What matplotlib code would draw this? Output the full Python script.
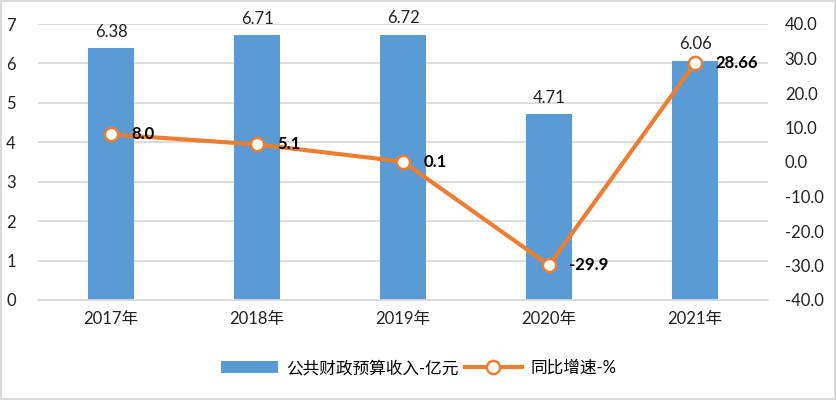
import matplotlib.pyplot as plt
import numpy as np
from matplotlib.patches import Rectangle

plt.rcParams['font.family'] = ['Lato', 'Noto Sans CJK SC', 'DejaVu Sans']

years = ['2017年', '2018年', '2019年', '2020年', '2021年']
revenue = [6.38, 6.71, 6.72, 4.71, 6.06]
growth = [8.0, 5.1, 0.1, -29.9, 28.66]
growth_labels = ['8.0', '5.1', '0.1', '-29.9', '28.66']

bar_color = '#5b9bd5'
line_color = '#ed7d31'
grid_color = '#d9d9d9'
fs = 12

fig = plt.figure(figsize=(8.37, 4.0), dpi=100)
fig.patches.append(Rectangle((0.001, 0.002), 0.997, 0.995, transform=fig.transFigure,
                             fill=False, edgecolor='#d9d9d9', linewidth=1.5))

ax = fig.add_axes([0.0454, 0.25, 0.8722, 0.69])
x = np.arange(len(years))
ax.bar(x, revenue, width=0.315, color=bar_color, zorder=2, label='公共财政预算收入-亿元')
for xi, v in zip(x, revenue):
    ax.text(xi, v + 0.22, f'{v:.2f}', ha='center', va='bottom', fontsize=fs, color='#222222')

ax.set_xlim(-0.5, len(years) - 0.5)
ax.set_ylim(0, 7)
ax.set_yticks(range(0, 8))
ax.set_xticks(x)
ax.set_xticklabels(years)
ax.yaxis.grid(True, color=grid_color, linewidth=1.3, zorder=0)
ax.set_axisbelow(True)
for s in ['top', 'right', 'left']:
    ax.spines[s].set_visible(False)
ax.spines['bottom'].set_color(grid_color)
ax.spines['bottom'].set_linewidth(1.3)
ax.tick_params(axis='both', length=0, labelsize=fs, colors='#222222')
ax.tick_params(axis='y', pad=16)
ax.tick_params(axis='x', pad=8)

ax2 = ax.twinx()
ax2.plot(x, growth, color=line_color, linewidth=3, marker='o', markersize=9.5,
         markerfacecolor='white', markeredgecolor=line_color, markeredgewidth=1.8,
         zorder=3, label='同比增速-%')
for xi, v, t in zip(x, growth, growth_labels):
    ax2.text(xi + 0.14, v, t, ha='left', va='center', fontsize=fs,
             fontweight='bold', color='black')
ax2.set_ylim(-40, 40)
ax2.set_yticks(range(-40, 41, 10))
ax2.set_yticklabels([f'{t:.1f}' for t in range(-40, 41, 10)])
for s in ax2.spines.values():
    s.set_visible(False)
ax2.tick_params(axis='y', length=0, labelsize=fs, colors='#222222', pad=12)

h1, l1 = ax.get_legend_handles_labels()
h2, l2 = ax2.get_legend_handles_labels()
fig.legend(h1 + h2, l1 + l2, loc='center', bbox_to_anchor=(0.5, 0.08), ncol=2,
           frameon=False, fontsize=fs, handlelength=3.4, columnspacing=0.4,
           handletextpad=0.5)

fig.savefig('out.png', dpi=100)
